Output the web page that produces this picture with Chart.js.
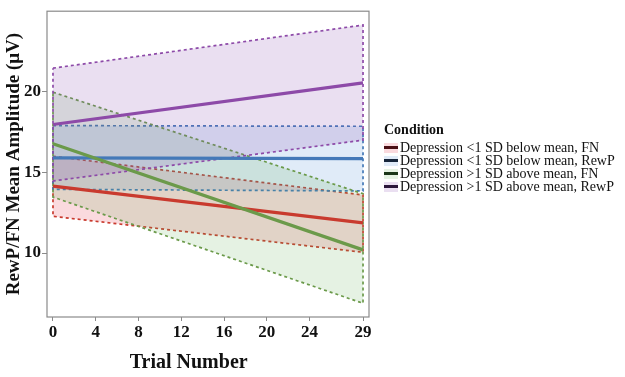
<!DOCTYPE html>
<html>
<head>
<meta charset="utf-8">
<script src="https://cdn.jsdelivr.net/npm/chart.js@4"></script>
<style>
  html, body { margin: 0; padding: 0; background: #fff; }
  #wrap { position: relative; width: 625px; height: 377px; }
  #legend { position: absolute; left: 384px; top: 122px; font-family: 'Liberation Serif', 'Times New Roman', serif; color: #111; }
  #legend .title { font-weight: bold; font-size: 14px; line-height: 16px; margin-bottom: 3px; }
  #legend .row { display: flex; align-items: center; height: 13px; font-size: 14px; line-height: 13px; white-space: nowrap; }
  #legend .key { width: 14px; height: 10px; position: relative; margin-right: 2px; }
  #legend .key span { position: absolute; left: 0; right: 0; top: 3.5px; height: 3px; }
</style>
</head>
<body>
<div id="wrap">
  <canvas id="c" width="625" height="377"></canvas>
  <div id="legend"></div>
</div>
<script>
// ---- data ----
const trials = [0, 29];
const xTickValues = [0, 4, 8, 12, 16, 20, 24, 29];
const yTickValues = [10, 15, 20];
const conditions = [
  'Depression <1 SD below mean, FN',
  'Depression <1 SD below mean, RewP',
  'Depression >1 SD above mean, FN',
  'Depression >1 SD above mean, RewP'
];
const redMean = [14.15, 11.87];
const redUpper = [16.0, 13.6];
const redLower = [12.28, 10.05];
const blueMean = [15.9, 15.85];
const blueUpper = [17.9, 17.86];
const blueLower = [13.95, 13.85];
const greenMean = [16.77, 10.2];
const greenUpper = [19.97, 13.68];
const greenLower = [13.47, 6.89];
const purpleMean = [17.97, 20.55];
const purpleUpper = [21.46, 24.13];
const purpleLower = [14.47, 17.0];
const xTitle = 'Trial Number';
const yTitle = 'RewP/FN Mean Amplitude (μV)';

const means = [redMean, blueMean, greenMean, purpleMean];
const uppers = [redUpper, blueUpper, greenUpper, purpleUpper];
const lowers = [redLower, blueLower, greenLower, purpleLower];

// ---- styles ----
const lineColors = ['#c93a2e', '#4479b8', '#6b9a4a', '#8d4aa8'];
const fillColors = ['rgba(230,50,70,0.18)', 'rgba(65,130,210,0.16)', 'rgba(95,175,80,0.16)', 'rgba(140,80,175,0.18)'];
const keyLineColors = ['#4a0f14', '#16253a', '#1b3619', '#2b173b'];
const serif = "'Liberation Serif', 'Times New Roman', serif";

const datasets = [];
conditions.forEach((label, i) => {
  const up = uppers[i], lo = lowers[i];
  datasets.push({
    label: label + ' band',
    data: [
      {x: trials[0], y: up[0]},
      {x: trials[1], y: up[1]},
      {x: trials[1], y: lo[1]},
      {x: trials[0], y: lo[0]},
      {x: trials[0], y: up[0]}
    ],
    borderColor: lineColors[i],
    borderWidth: 1.7,
    borderDash: [3, 3],
    backgroundColor: fillColors[i],
    fill: 'shape',
    pointRadius: 0,
    tension: 0,
    order: 20 - i
  });
});
conditions.forEach((label, i) => {
  datasets.push({
    label: label,
    data: trials.map((t, k) => ({x: t, y: means[i][k]})),
    borderColor: lineColors[i],
    borderWidth: 3.2,
    fill: false,
    pointRadius: 0,
    tension: 0,
    order: 10 - i
  });
});

const panelBorder = {
  id: 'panelBorder',
  afterDraw(chart) {
    const {ctx, chartArea: a} = chart;
    ctx.save();
    ctx.strokeStyle = '#8a8a8a';
    ctx.lineWidth = 1.2;
    ctx.strokeRect(a.left, a.top, a.right - a.left, a.bottom - a.top);
    // x-axis title (offset left of the panel centre, as in the original)
    ctx.fillStyle = '#111';
    ctx.font = "bold 20px " + serif;
    ctx.textAlign = 'center';
    ctx.textBaseline = 'middle';
    ctx.fillText(xTitle, a.left + (a.right - a.left) * 0.44, 363);
    ctx.restore();
  }
};

new Chart(document.getElementById('c'), {
  type: 'line',
  data: { datasets },
  plugins: [panelBorder],
  options: {
    responsive: false,
    animation: false,
    layout: { padding: { top: 3, right: 256, left: 0, bottom: 0 } },
    plugins: { legend: { display: false }, tooltip: { enabled: false } },
    scales: {
      x: {
        type: 'linear',
        min: -0.56,
        max: 29.56,
        afterBuildTicks: s => { s.ticks = xTickValues.map(v => ({value: v})); },
        afterFit: s => { s.height = 60; },
        border: { display: false },
        grid: { display: true, drawOnChartArea: false, drawTicks: true, tickLength: 4, color: '#8a8a8a', tickWidth: 1 },
        ticks: { font: { family: serif, size: 17, weight: 'bold' }, color: '#111', padding: 1, maxRotation: 0, autoSkip: false },
        title: { display: false }
      },
      y: {
        type: 'linear',
        min: 6.04,
        max: 24.99,
        afterBuildTicks: s => { s.ticks = yTickValues.map(v => ({value: v})); },
        afterFit: s => { s.width = 47; },
        border: { display: false },
        grid: { display: true, drawOnChartArea: false, drawTicks: true, tickLength: 5, color: '#8a8a8a', tickWidth: 1 },
        ticks: { font: { family: serif, size: 17, weight: 'bold' }, color: '#111', padding: 1 },
        title: { display: true, text: yTitle, font: { family: serif, size: 19, weight: 'bold' }, color: '#111', padding: { top: 3, bottom: 0 } }
      }
    }
  }
});

// ---- legend ----
const leg = document.getElementById('legend');
const t = document.createElement('div');
t.className = 'title';
t.textContent = 'Condition';
leg.appendChild(t);
conditions.forEach((label, i) => {
  const row = document.createElement('div');
  row.className = 'row';
  const key = document.createElement('div');
  key.className = 'key';
  key.style.background = fillColors[i];
  const bar = document.createElement('span');
  bar.style.background = keyLineColors[i];
  key.appendChild(bar);
  const txt = document.createElement('div');
  txt.textContent = label;
  row.appendChild(key);
  row.appendChild(txt);
  leg.appendChild(row);
});
</script>
</body>
</html>
